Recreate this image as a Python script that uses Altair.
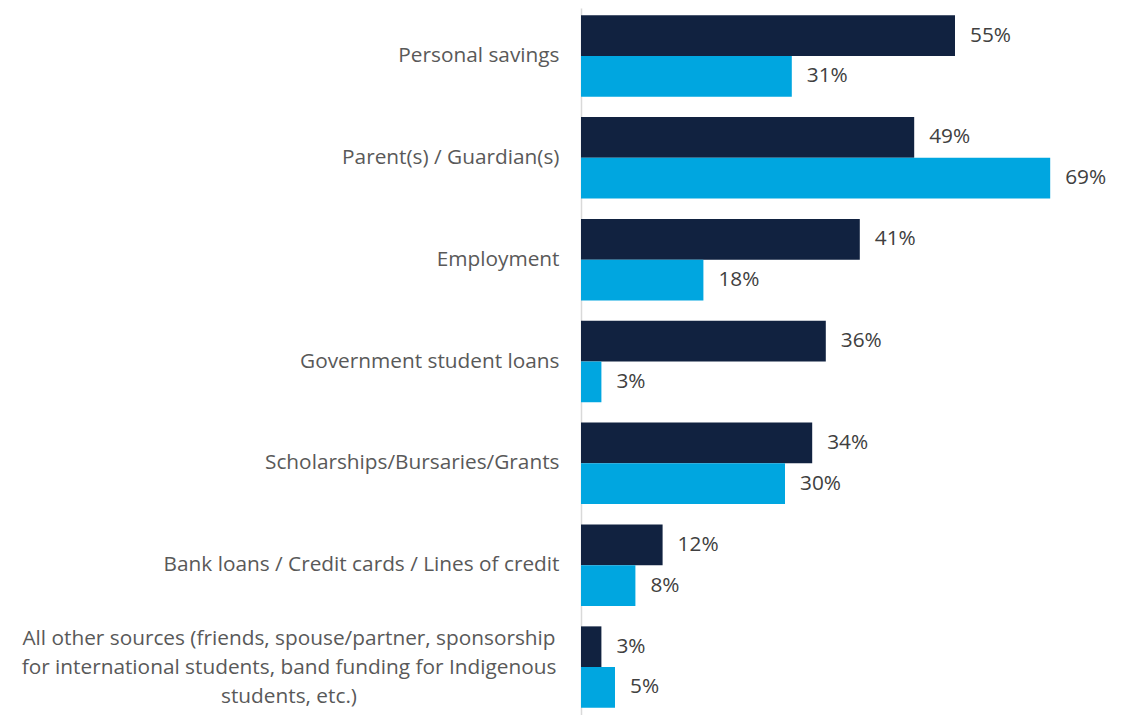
import altair as alt
import pandas as pd

categories = [
    "Personal savings",
    "Parent(s) / Guardian(s)",
    "Employment",
    "Government student loans",
    "Scholarships/Bursaries/Grants",
    "Bank loans / Credit cards / Lines of credit",
    "All other sources (friends, spouse/partner, sponsorship|for international students, band funding for Indigenous|students, etc.)",
]
series_names = ["Series A", "Series B"]
series_a = [55, 49, 41, 36, 34, 12, 3]
series_b = [31, 69, 18, 3, 30, 8, 5]

rows = []
for c, a, b in zip(categories, series_a, series_b):
    rows.append({"cat": c, "series": series_names[0], "value": a})
    rows.append({"cat": c, "series": series_names[1], "value": b})
df = pd.DataFrame(rows)
df["label"] = df["value"].astype(str) + "%"

multi_df = pd.DataFrame({"cat": [categories[-1]]})

FONT = "Open Sans"
FS = 20.8

y_scale = alt.Scale(domain=categories, paddingInner=0.2, paddingOuter=0.07)

y_enc = alt.Y(
    "cat:N",
    sort=categories,
    scale=y_scale,
    axis=alt.Axis(
        title=None,
        ticks=False,
        domain=True,
        domainColor="#D9D9D9",
        domainWidth=1.5,
        labelExpr="indexof(datum.label, '|') >= 0 ? '' : datum.label",
        labelFont=FONT,
        labelFontSize=FS,
        labelColor="#595959",
        labelPadding=22,
        labelLimit=0,
    ),
)
yoff = alt.YOffset("series:N", sort=series_names, scale=alt.Scale(paddingInner=0, paddingOuter=0))
x_enc = alt.X("value:Q", scale=alt.Scale(domain=[0, 80]), axis=None)

base = alt.Chart(df).encode(y=y_enc, yOffset=yoff, x=x_enc)

bars = base.mark_bar().encode(
    color=alt.Color(
        "series:N",
        sort=series_names,
        scale=alt.Scale(domain=series_names, range=["#112240", "#00A6E0"]),
        legend=None,
    )
)
texts = base.mark_text(align="left", baseline="middle", dx=15, font=FONT, fontSize=FS, color="#404040").encode(
    text="label:N"
)

multi = alt.Chart(multi_df).mark_text(
    align="center", baseline="middle", lineBreak="|", lineHeight=29, dy=-28,
    font=FONT, fontSize=FS, color="#595959",
).encode(
    y=alt.Y("cat:N", sort=categories, scale=y_scale),
    x=alt.value(-292),
    text="cat:N",
)

chart = (
    alt.layer(bars, texts, multi)
    .properties(
        width=544,
        height=707,
        autosize=alt.AutoSizeParams(type="none"),
        padding={"left": 573, "top": 0, "right": 0, "bottom": 0},
    )
    .configure_view(stroke=None)
)

chart.save("out.html", embed_options={"renderer": "svg", "actions": False})
